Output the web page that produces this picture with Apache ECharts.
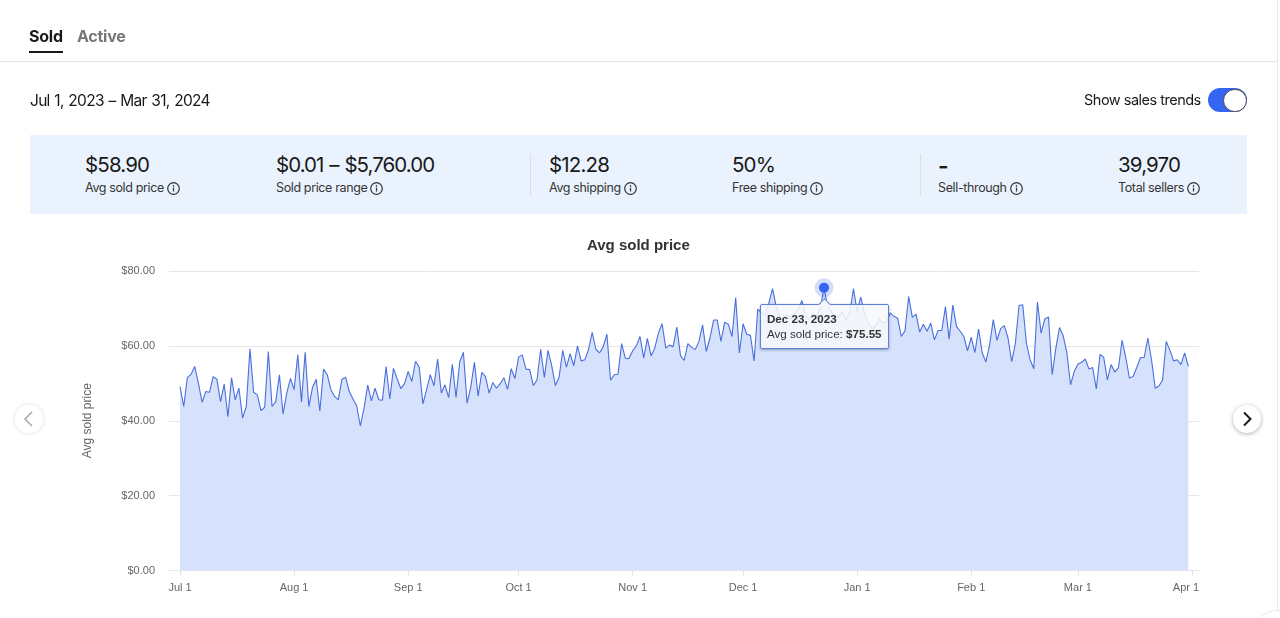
<!DOCTYPE html>
<html>
<head>
<meta charset="utf-8">
<title>Avg sold price</title>
<script src="https://cdn.jsdelivr.net/npm/echarts@6/dist/echarts.min.js"></script>
<style>
html, body { margin: 0; padding: 0; background: #fff; overflow: hidden; }
body { width: 1280px; height: 618px; position: relative; font-family: Inter, "Open Sans", sans-serif; color: #191919; }
.abs { position: absolute; white-space: nowrap; }
#chart { position: absolute; left: 0; top: 0; width: 1280px; height: 618px; }
.tab { font-size: 16px; font-weight: 700; line-height: 20px; top: 26px; letter-spacing: -0.25px; }
.band { left: 30px; top: 135px; width: 1217px; height: 79px; background: #e9f2fd; }
.rule { top: 154px; width: 1px; height: 42px; background: #d8dfe8; }
.val { font-size: 20.5px; line-height: 26px; top: 152px; letter-spacing: -0.85px; }
.lab { font-size: 12.5px; line-height: 16px; top: 180px; color: #363636; letter-spacing: -0.37px; display: flex; align-items: center; gap: 3px; }
.nav { width: 28px; height: 28px; border-radius: 50%; background: #fff; }
.nav svg { display: block; }
</style>
</head>
<body>
<svg width="0" height="0" style="position:absolute">
  <symbol id="info" viewBox="0 0 13 13">
    <circle cx="6.5" cy="6.5" r="5.8" fill="none" stroke="#333" stroke-width="1.2"/>
    <rect x="5.9" y="5.6" width="1.2" height="3.9" fill="#333"/>
    <circle cx="6.5" cy="3.9" r="0.8" fill="#333"/>
  </symbol>
</svg>

<div id="chart"></div>

<div class="abs tab" style="left:29px">Sold</div>
<div class="abs tab" style="left:77px;color:#767676">Active</div>
<div class="abs" style="left:29px;top:51px;width:34px;height:2px;background:#191919"></div>
<div class="abs" style="left:0;top:61px;width:1277px;height:1px;background:#e5e5e5"></div>
<div class="abs" style="left:1277px;top:0;width:1px;height:618px;background:#e8e8e8"></div>

<div class="abs" style="left:30px;top:90.5px;font-size:15.5px;line-height:20px;letter-spacing:-0.7px;word-spacing:1px">Jul 1, 2023 – Mar 31, 2024</div>
<div class="abs" style="left:1084px;top:90px;font-size:14.5px;line-height:20px;letter-spacing:-0.5px">Show sales trends</div>
<div class="abs" style="left:1208px;top:88px;width:39px;height:24px;border-radius:12px;background:#3665f3"></div>
<div class="abs" style="left:1223px;top:88.5px;width:21.5px;height:21.5px;border-radius:50%;background:#fff;border:1px solid #444"></div>

<div class="abs band"></div>
<div class="abs rule" style="left:530px"></div>
<div class="abs rule" style="left:920px"></div>

<div class="abs val" style="left:85px">$58.90</div>
<div class="abs lab" style="left:85px">Avg sold price <svg width="13" height="13"><use href="#info"/></svg></div>
<div class="abs val" style="left:276px;letter-spacing:-0.95px;word-spacing:1px">$0.01 – $5,760.00</div>
<div class="abs lab" style="left:276px">Sold price range <svg width="13" height="13"><use href="#info"/></svg></div>
<div class="abs val" style="left:549px">$12.28</div>
<div class="abs lab" style="left:549px">Avg shipping <svg width="13" height="13"><use href="#info"/></svg></div>
<div class="abs val" style="left:732px">50%</div>
<div class="abs lab" style="left:732px">Free shipping <svg width="13" height="13"><use href="#info"/></svg></div>
<div class="abs val" style="left:938px;top:153px;font-weight:600;font-size:23px">-</div>
<div class="abs lab" style="left:938px">Sell-through <svg width="13" height="13"><use href="#info"/></svg></div>
<div class="abs val" style="left:1118px">39,970</div>
<div class="abs lab" style="left:1118px">Total sellers <svg width="13" height="13"><use href="#info"/></svg></div>

<div class="abs nav" style="left:15px;top:405px;box-shadow:0 0 4px rgba(0,0,0,.14)">
  <svg width="28" height="28"><path d="M17 7 L10 14 L17 21" fill="none" stroke="#a8a8a8" stroke-width="1.5"/></svg>
</div>
<div class="abs nav" style="left:1233px;top:405px;box-shadow:0 1px 4px rgba(0,0,0,.32)">
  <svg width="28" height="28"><path d="M11 7.5 L17.5 14 L11 20.5" fill="none" stroke="#191919" stroke-width="2"/></svg>
</div>
<div class="abs" style="left:1254px;top:610px;width:44px;height:44px;border-radius:50%;border:1px solid #e8e8e8;background:#fff"></div>

<script>
var startDate = '2023-07-01';

var avgSoldPrice = [
    49.1, 43.8, 51.6, 52.4, 54.5, 50.0, 44.9, 47.8, 47.6, 51.8, 51.1, 45.1, 49.8, 41.1, 51.5, 45.6, 48.7, 40.7, 43.8, 59.2, 47.6, 46.9, 42.7, 43.6, 58.5, 43.8, 45.1, 52.3, 41.8, 47.4, 51.3,
    48.3, 57.6, 45.0, 58.3, 43.8, 48.9, 51.1, 42.6, 53.8, 52.3, 48.3, 46.5, 45.6, 51.1, 51.6, 47.8, 45.8, 44.0, 38.6, 43.4, 49.5, 45.3, 48.7, 45.6, 45.5, 54.5, 45.8, 54.0, 51.2, 48.6, 49.9,
    53.2, 50.5, 55.9, 54.3, 44.5, 48.3, 52.3, 49.3, 56.5, 47.4, 49.6, 46.2, 55.1, 46.2, 55.7, 58.3, 44.7, 49.0, 55.6, 46.6, 52.9, 51.8, 47.4, 50.2, 48.7, 49.9, 51.5, 48.4,
    53.9, 51.3, 57.0, 57.6, 53.8, 53.7, 49.4, 50.9, 59.1, 51.6, 58.8, 54.7, 49.4, 51.6, 58.8, 54.3, 57.9, 54.7, 60.0, 56.0, 56.3, 59.0, 63.6, 59.1, 58.1, 59.8, 63.1, 50.8, 52.3, 52.4, 60.6,
    56.7, 56.6, 58.7, 60.0, 62.5, 56.8, 62.0, 57.3, 59.4, 63.4, 65.9, 59.4, 60.2, 59.8, 65.0, 57.4, 56.1, 60.6, 59.6, 59.0, 61.2, 65.6, 58.5, 62.1, 66.9, 66.9, 61.2, 66.3, 65.8, 62.5,
    72.9, 58.1, 65.9, 63.1, 62.8, 56.0, 69.8, 68.8, 68.3, 71.4, 75.3, 70.5, 67.9, 67.4, 68.3, 67.2, 68.8, 69.6, 72.1, 67.9, 67.2, 68.8, 68.0, 70.1, 75.55, 70.5, 69.2, 67.4, 67.9, 69.2, 67.0,
    68.8, 75.3, 69.2, 73.0, 68.8, 66.1, 64.7, 65.2, 67.2, 66.1, 66.5, 68.8, 67.9, 67.4, 62.5, 64.0, 73.2, 67.6, 68.5, 63.7, 65.8, 63.9, 66.1, 61.6, 64.1, 64.1, 70.5, 61.8, 70.9, 65.2, 63.9,
    62.5, 58.7, 62.3, 58.2, 64.5, 58.1, 55.7, 60.3, 67.0, 61.5, 64.6, 65.4, 62.1, 55.8, 60.7, 70.8, 71.0, 60.7, 56.3, 53.9, 71.7, 63.4, 67.2, 67.7, 52.3, 59.4, 64.9, 62.7, 58.1,
    49.6, 53.2, 55.1, 55.6, 56.5, 53.8, 54.2, 48.5, 57.7, 57.0, 50.9, 55.0, 53.0, 54.1, 61.5, 56.9, 51.4, 51.8, 54.3, 56.9, 56.9, 62.1, 56.3, 48.7, 49.3, 50.9, 61.2, 58.8, 56.0, 56.3, 55.0, 58.1, 54.5
];

var tickDates = ['2023-07-01', '2023-08-01', '2023-09-01', '2023-10-01', '2023-11-01', '2023-12-01', '2024-01-01', '2024-02-01', '2024-03-01', '2024-04-01'];
var tickLabels = ['Jul 1', 'Aug 1', 'Sep 1', 'Oct 1', 'Nov 1', 'Dec 1', 'Jan 1', 'Feb 1', 'Mar 1', 'Apr 1'];
var yTicks = [0, 20, 40, 60, 80];

var highlightDate = '2023-12-23';
var highlightLabel = 'Dec 23, 2023';
var highlightValue = 75.55;

// x axis counts days since startDate
function dayOf(dateStr) {
    return Math.round((new Date(dateStr + 'T00:00:00Z') - new Date(startDate + 'T00:00:00Z')) / 86400000);
}

var tickDays = tickDates.map(dayOf);
var highlightDay = dayOf(highlightDate);

var lineData = avgSoldPrice.map(function (v, i) {
    return [i, v];
});

var myChart = echarts.init(document.getElementById('chart'));

var option = {
    animation: false,
    textStyle: { fontFamily: '"Liberation Sans", Arial, sans-serif' },
    title: {
        text: 'Avg sold price',
        left: 582,
        top: 233,
        textStyle: { fontSize: 15, fontWeight: 'bold', color: '#333', fontFamily: '"Liberation Sans", Arial, sans-serif' }
    },
    grid: { left: 169, top: 271, width: 1030, height: 299.5 },
    tooltip: {
        trigger: 'item',
        alwaysShowContent: true,
        transitionDuration: 0,
        padding: 0,
        borderWidth: 0,
        backgroundColor: 'transparent',
        extraCssText: 'box-shadow:none;',
        position: function () {
            return [760, 304];
        },
        formatter: function () {
            return '<div style="position:relative;box-sizing:border-box;width:129px;height:45px;padding:5.5px 6px;'
                + 'background:rgba(247,248,251,0.86);border:1px solid #5f7ed6;border-radius:2px;'
                + 'box-shadow:0 1px 3px rgba(40,60,120,.45);font:11.6px/15px \'Liberation Sans\',Arial,sans-serif;color:#333">'
                + '<div style="position:absolute;left:59px;top:-5px;width:8px;height:8px;transform:rotate(45deg);'
                + 'background:#f7f8fb;border-left:1px solid #5f7ed6;border-top:1px solid #5f7ed6"></div>'
                + '<b>' + highlightLabel + '</b><br>Avg sold price: <b>$' + highlightValue.toFixed(2) + '</b></div>';
        }
    },
    xAxis: {
        type: 'value',
        min: -3,
        max: 276.9,
        axisLine: { show: true, onZero: false, lineStyle: { color: '#e6e6e6' } },
        axisTick: { show: true, length: 5, customValues: tickDays, lineStyle: { color: '#e0e0e0' } },
        splitLine: { show: false },
        axisLabel: {
            customValues: tickDays,
            margin: 12,
            fontSize: 11,
            color: '#666',
            showMinLabel: true,
            showMaxLabel: true,
            formatter: function (value) {
                var label = tickLabels[tickDays.indexOf(value)];
                return label === 'Apr 1' ? '{last|' + label + '}' : label;
            },
            rich: { last: { fontSize: 11, color: '#666', padding: [0, 12, 0, 0] } }
        }
    },
    yAxis: {
        type: 'value',
        min: yTicks[0],
        max: yTicks[yTicks.length - 1],
        interval: 20,
        name: 'Avg sold price',
        nameLocation: 'middle',
        nameGap: 75,
        nameTextStyle: { fontSize: 12, color: '#666' },
        axisLine: { show: false },
        axisTick: { show: false },
        axisLabel: {
            margin: 14,
            padding: [3, 0, 0, 0],
            fontSize: 11,
            color: '#666',
            formatter: function (value) {
                return '$' + value.toFixed(2);
            }
        },
        splitLine: { lineStyle: { color: '#e6e6e6', width: 1 } }
    },
    series: [
        {
            name: 'Avg sold price',
            type: 'line',
            data: lineData,
            symbol: 'none',
            silent: true,
            tooltip: { show: false },
            lineStyle: { color: '#4a6fdc', width: 1.1 },
            areaStyle: { color: '#d6e2fb', opacity: 1 }
        },
        {
            name: 'halo',
            type: 'scatter',
            data: [[highlightDay, highlightValue]],
            symbolSize: 19,
            silent: true,
            tooltip: { show: false },
            itemStyle: { color: 'rgba(54,101,243,0.22)', opacity: 1 },
            z: 5
        },
        {
            name: 'Avg sold price',
            type: 'scatter',
            data: [[highlightDay, highlightValue]],
            symbolSize: 10,
            itemStyle: { color: '#3665f3', opacity: 1 },
            z: 6
        }
    ]
};

myChart.setOption(option);
myChart.dispatchAction({ type: 'showTip', seriesIndex: 2, dataIndex: 0 });
</script>
</body>
</html>
